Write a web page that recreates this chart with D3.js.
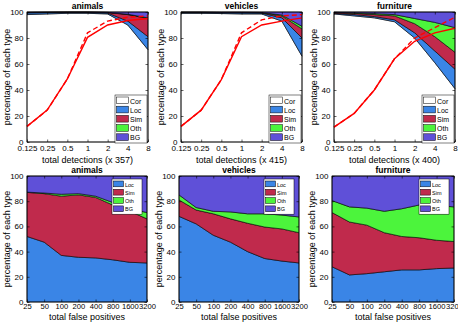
<!DOCTYPE html>
<html>
<head>
<meta charset="utf-8">
<script src="https://d3js.org/d3.v7.min.js"></script>
<style>
    body { margin: 0; background: #fff; }
    text { font-family: "Liberation Sans", Arial, sans-serif; fill: #000; }
</style>
</head>
<body>
<div id="chart"></div>
<script>
// categories / tick values
var titles = ["animals", "vehicles", "furniture"];
var totals = [357, 415, 400];
var topKeys = ["Cor", "Loc", "Sim", "Oth", "BG"];
var bottomKeys = ["Loc", "Sim", "Oth", "BG"];
var typeColors = { Cor: "#ffffff", Loc: "#3a85e6", Sim: "#c02a4c", Oth: "#4cf43c", BG: "#5f50d8" };
var detX = [0.125, 0.25, 0.5, 1, 2, 4, 8];
var detTickLabels = ["0.125", "0.25", "0.5", "1", "2", "4", "8"];
var fpX = [25, 50, 100, 200, 400, 800, 1600, 3200];
var yTicks = [0, 20, 40, 60, 80, 100];

// top row: % of each type (Cor, Loc, Sim, Oth, BG) vs total detections
var topAnimals = [
    [98, 98.5, 99, 99, 98.5, 90, 71],
    [1.3, 1.0, 0.6, 0.6, 0.7, 3, 10],
    [0.3, 0.2, 0.2, 0.2, 0.4, 5, 14],
    [0.1, 0.1, 0.1, 0.1, 0.1, 0.3, 0.5],
    [0.3, 0.2, 0.1, 0.1, 0.3, 1.7, 4.5]
];
var topVehicles = [
    [99, 99, 98.8, 98.5, 98.5, 93, 66],
    [0.5, 0.5, 0.6, 0.8, 0.7, 2.5, 14],
    [0.2, 0.2, 0.2, 0.3, 0.3, 1.5, 7],
    [0.1, 0.1, 0.1, 0.1, 0.1, 0.7, 2],
    [0.2, 0.2, 0.3, 0.3, 0.4, 2.3, 11]
];
var topFurniture = [
    [98.5, 97, 95.5, 92.5, 80, 61, 41],
    [0.5, 1, 1, 1.5, 4, 9, 15],
    [0.5, 1, 1.5, 3, 7, 11, 13],
    [0.2, 0.4, 0.8, 1, 4, 11, 19],
    [0.3, 0.6, 1.2, 2, 5, 8, 12]
];
// red curves (solid and dashed)
var recallAnimals = [12, 24.5, 48.5, 80.5, 90, 93.5, 95];
var recallAnimalsDash = [12, 24.5, 48.5, 84, 93, 96, 97];
var recallVehicles = [12, 24.5, 48, 81, 90, 93, 95.5];
var recallVehiclesDash = [12, 24.5, 48, 84, 94, 97, 98];
var recallFurniture = [11.5, 22, 40, 64, 77.5, 84, 87.5];
var recallFurnitureDash = [11.5, 22, 40, 64, 80, 88, 96];

// bottom row: % of false positives by type (Loc, Sim, Oth, BG)
var fpAnimals = [
    [52, 47.5, 37, 35.5, 35, 33.5, 31.5, 31],
    [35, 38.5, 47, 49.5, 48, 43.5, 40.5, 35],
    [0.2, 0.5, 1.5, 1, 1, 2, 2, 5],
    [12.8, 13.5, 14.5, 14, 16, 21, 26, 29]
];
var fpVehicles = [
    [68, 62, 53, 47.5, 40, 34.5, 32.5, 31],
    [13, 11, 17, 18.5, 22.5, 25, 25.5, 24],
    [4, 2, 2, 5.5, 7.5, 10.5, 11, 12.5],
    [15, 25, 28, 28.5, 30, 30, 31, 32.5]
];
var fpFurniture = [
    [28, 21.5, 22.5, 24, 25.5, 25.5, 26.5, 27],
    [43, 42, 38.5, 31, 26.5, 25.5, 22.5, 21],
    [9.5, 12, 13.5, 17, 22, 26, 27.5, 27.5],
    [19.5, 24.5, 25.5, 28, 26, 23, 23.5, 24.5]
];

var W = 458, H = 323;
var svg = d3.select("#chart").append("svg")
    .attr("width", W).attr("height", H);

function drawPanel(opt) {
    var x = d3.scaleLog().base(2).domain(d3.extent(opt.xs)).range([opt.x0, opt.x1]);
    var y = d3.scaleLinear().domain([0, 100]).range([opt.y1, opt.y0]);
    var g = svg.append("g");

    var rows = opt.xs.map(function (v, i) {
        var r = { x: v };
        opt.keys.forEach(function (k, j) { r[k] = opt.layers[j][i]; });
        return r;
    });
    var series = d3.stack().keys(opt.keys)(rows);
    var area = d3.area()
        .x(function (d) { return x(d.data.x); })
        .y0(function (d) { return y(d[0]); })
        .y1(function (d) { return y(d[1]); });

    g.selectAll("path.layer")
        .data(series)
        .enter().append("path")
        .attr("class", "layer")
        .attr("d", area)
        .attr("fill", function (d) { return typeColors[d.key]; })
        .attr("stroke", "#000")
        .attr("stroke-width", 0.6)
        .attr("stroke-linejoin", "round");

    // red curves
    if (opt.lines) {
        var line = d3.line()
            .x(function (d, i) { return x(opt.xs[i]); })
            .y(function (d) { return y(d); });
        g.append("path").datum(opt.lines[0]).attr("d", line)
            .attr("fill", "none").attr("stroke", "#ff0000").attr("stroke-width", 1.4);
        g.append("path").datum(opt.lines[1]).attr("d", line)
            .attr("fill", "none").attr("stroke", "#ff0000").attr("stroke-width", 1.4)
            .attr("stroke-dasharray", "5,3");
    }

    // axes (ticks inward, box around)
    var xb = g.append("g").attr("transform", "translate(0," + opt.y1 + ")")
        .call(d3.axisBottom(x).tickValues(opt.xs).tickFormat(function (d, i) { return opt.tickLabels[i]; })
            .tickSizeInner(-2.5).tickSizeOuter(0).tickPadding(opt.tickPad));
    var xt = g.append("g").attr("transform", "translate(0," + opt.y0 + ")")
        .call(d3.axisTop(x).tickValues(opt.xs).tickFormat("").tickSizeInner(-2.5).tickSizeOuter(0));
    var yl = g.append("g").attr("transform", "translate(" + opt.x0 + ",0)")
        .call(d3.axisLeft(y).tickValues(yTicks).tickSizeInner(-2.5).tickSizeOuter(0).tickPadding(3.5));
    var yr = g.append("g").attr("transform", "translate(" + opt.x1 + ",0)")
        .call(d3.axisRight(y).tickValues(yTicks).tickFormat("").tickSizeInner(-2.5).tickSizeOuter(0));
    [xb, xt, yl, yr].forEach(function (a) {
        a.select(".domain").remove();
        a.selectAll("line").attr("stroke", "#000").attr("stroke-width", 0.6);
        a.selectAll("text").style("font-size", "8px").style("font-family", "'Liberation Sans', Arial, sans-serif");
    });
    xb.selectAll("text").style("font-size", opt.tickFs);

    g.append("rect")
        .attr("x", opt.x0).attr("y", opt.y0)
        .attr("width", opt.x1 - opt.x0).attr("height", opt.y1 - opt.y0)
        .attr("fill", "none").attr("stroke", "#000").attr("stroke-width", 0.7);

    // title and labels
    g.append("text")
        .attr("x", (opt.x0 + opt.x1) / 2).attr("y", opt.y0 - 3)
        .attr("text-anchor", "middle")
        .style("font-size", "8.5px").style("font-weight", "bold")
        .text(opt.title);
    g.append("text")
        .attr("x", (opt.x0 + opt.x1) / 2).attr("y", opt.y1 + opt.labelOff)
        .attr("text-anchor", "middle")
        .style("font-size", "9px")
        .text(opt.xlabel);
    g.append("text")
        .attr("transform", "translate(" + (opt.x0 - 20) + "," + ((opt.y0 + opt.y1) / 2) + ") rotate(-90)")
        .attr("text-anchor", "middle")
        .attr("dy", "0.35em")
        .style("font-size", "9px")
        .text("percentage of each type");

    // legend
    var L = opt.legend;
    var lg = g.append("g");
    lg.append("rect")
        .attr("x", L.x).attr("y", L.y).attr("width", L.w).attr("height", L.pitch * opt.keys.length + 2)
        .attr("fill", "#fff").attr("stroke", "#000").attr("stroke-width", 0.5);
    opt.keys.forEach(function (k, i) {
        var yy = L.y + 1.5 + i * L.pitch;
        lg.append("rect")
            .attr("x", L.x + 1.5).attr("y", yy + 0.5)
            .attr("width", L.sw).attr("height", L.pitch - 2.5)
            .attr("fill", typeColors[k]).attr("stroke", "#000").attr("stroke-width", 0.5);
        lg.append("text")
            .attr("x", L.x + L.sw + 3).attr("y", yy + L.pitch / 2)
            .attr("dy", "0.35em")
            .style("font-size", L.fs)
            .text(k);
    });
}

var topPos = [[27, 148], [181, 302], [334, 455]];
var botPos = [[27, 147], [179, 299], [332, 454]];
var topData = [topAnimals, topVehicles, topFurniture];
var topLines = [[recallAnimals, recallAnimalsDash], [recallVehicles, recallVehiclesDash], [recallFurniture, recallFurnitureDash]];
var fpData = [fpAnimals, fpVehicles, fpFurniture];

titles.forEach(function (t, i) {
    drawPanel({
        x0: topPos[i][0], x1: topPos[i][1], y0: 12, y1: 142, tickPad: 3.5, labelOff: 21, tickFs: "8px",
        xs: detX, tickLabels: detTickLabels, keys: topKeys, layers: topData[i],
        lines: topLines[i], title: t, xlabel: "total detections (x " + totals[i] + ")",
        legend: { x: topPos[i][1] - 33, y: 95, w: 32, pitch: 9.2, sw: 12, fs: "7px" }
    });
    drawPanel({
        x0: botPos[i][0], x1: botPos[i][1], y0: 176, y1: 302, tickPad: 2, labelOff: 17.5, tickFs: "7.6px",
        xs: fpX, tickLabels: fpX.map(String), keys: bottomKeys, layers: fpData[i],
        lines: null, title: t, xlabel: "total false positives",
        legend: { x: botPos[i][1] - 35, y: 179, w: 30, pitch: 8.3, sw: 10, fs: "5.5px" }
    });
});
</script>
</body>
</html>
